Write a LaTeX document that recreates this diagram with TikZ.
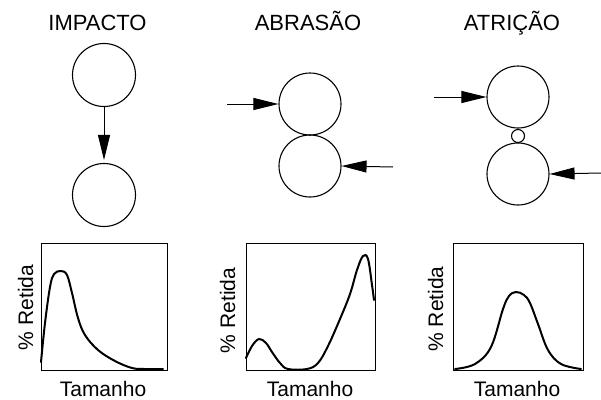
\documentclass[tikz,border=0pt]{standalone}
\usepackage{fontspec}
\setmainfont{Liberation Sans}
\usetikzlibrary{arrows.meta}
\begin{document}
\begin{tikzpicture}[x=1pt,y=-1pt,
  ball/.style={circle,draw,line width=1.1pt,inner sep=0pt,minimum size=63pt},
  grain/.style={circle,draw,line width=1.1pt,inner sep=0pt,minimum size=13pt},
  push/.style={line width=1pt,-{Triangle[length=25pt,width=12pt]}},
  frame/.style={draw,line width=1pt},
  curve/.style={line width=2pt,line join=round,line cap=round},
  title/.style={font=\fontsize{22}{22}\selectfont,anchor=base,inner sep=0pt},
  axis/.style={font=\fontsize{21}{21}\selectfont,anchor=base,inner sep=0pt}]
\useasboundingbox (0,0) rectangle (601,399);

% titles
\node[title] (t1) at (97.5,30) {IMPACTO};
\node[title] (t2) at (308,30) {ABRASÃO};
\node[title] (t3) at (512,30) {ATRIÇÃO};

% impacto
\node[ball] (a1) at (104,75) {};
\node[ball] (a2) at (104,195) {};
\draw[push,shorten >=3pt] (a1.south) -- (a2.north);

% abrasao
\node[ball,minimum size=62pt] (b1) at (310,104) {};
\node[ball,minimum size=62pt] (b2) at (310,166) {};
\coordinate (bl) at (227,104);
\coordinate (br) at (393,167);
\draw[push] (bl) -- (b1.west);
\draw[push] (br) -- (b2.east);

% atricao
\node[ball,minimum size=62pt] (c1) at (518,97) {};
\node[grain] (c2) at (518,136) {};
\node[ball,minimum size=62pt] (c3) at (518,174) {};
\coordinate (cl) at (434,97);
\coordinate (cr) at (601,173);
\draw[push] (cl) -- (c1.west);
\draw[push] (cr) -- (c3.east);

% graphs
\draw[frame] (41,243) rectangle (167,370);
\draw[frame] (246,243) rectangle (375,370);
\draw[frame] (453,243) rectangle (583,370);

\draw[curve] plot[smooth,tension=0.6] coordinates {(41,362) (45,323) (50,287) (54,274) (61,271) (67,275) (72,293) (78,318) (85,335) (98,350) (115,361) (132,368) (145,369) (163,369)};

\draw[curve] plot[smooth,tension=0.6] coordinates {(246,358) (252,346) (259,339) (266,343) (272,352) (280,363) (288,369) (307,369) (318,363) (328,346) (340,319) (350,294) (357,270) (363,256) (368,259) (372,285) (374,300)};

\draw[curve] plot[smooth,tension=0.6] coordinates {(455,369) (475,364) (491,347) (503,309) (509,296) (516,292) (524,295) (530,303) (538,324) (548,350) (561,364) (581,369)};

% axis labels
\node[axis,rotate=90] (y1) at (33,307.5) {\% Retida};
\node[axis,rotate=90] (y2) at (235,310.5) {\% Retida};
\node[axis,rotate=90] (y3) at (443,309) {\% Retida};
\node[axis] (x1) at (103,396) {Tamanho};
\node[axis] (x2) at (310,396) {Tamanho};
\node[axis] (x3) at (517,396) {Tamanho};
\end{tikzpicture}
\end{document}
